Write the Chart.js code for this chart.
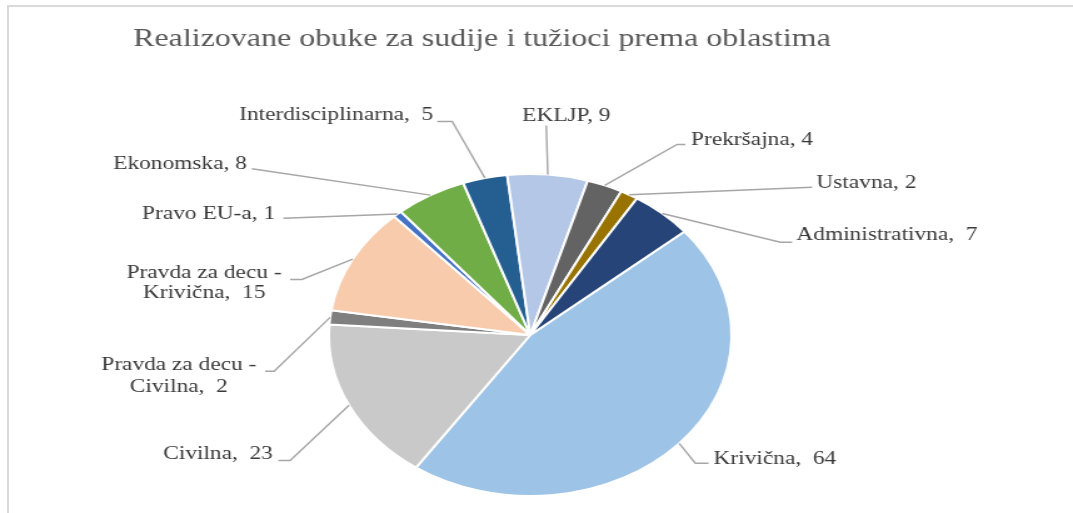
<!DOCTYPE html>
<html><head><meta charset="utf-8">
<script src="https://cdn.jsdelivr.net/npm/chart.js@4/dist/chart.umd.min.js"></script>
<style>
html,body{margin:0;padding:0;background:#fff;overflow:hidden;width:1073px;height:513px;}
#frame{position:absolute;left:7px;top:5px;width:1066px;height:508px;border-top:2px solid #D9D9D9;border-left:2px solid #D9D9D9;box-sizing:border-box;}
#wrap{position:absolute;left:0;top:0;width:858px;height:513px;transform:scaleX(1.25058);transform-origin:0 0;}
</style></head><body>
<div id="frame"></div>
<div id="wrap"><canvas id="c" width="858" height="513"></canvas></div>
<script>
const chartTitle = 'Realizovane obuke za sudije i tužioci prema oblastima';
const categories = ['Krivična', 'Civilna', ['Pravda za decu -', 'Civilna'], ['Pravda za decu -', 'Krivična'], 'Pravo EU-a', 'Ekonomska', 'Interdisciplinarna', 'EKLJP', 'Prekršajna', 'Ustavna', 'Administrativna'];
const values = [64, 23, 2, 15, 1, 8, 5, 9, 4, 2, 7];
const sliceColors = ['#9DC3E6', '#C9C9C9', '#7F7F7F', '#F8CBAD', '#4472C4', '#70AD47', '#255E91', '#B4C7E7', '#636363', '#997300', '#264478'];

// label placement relative to the pie centre (text anchor, leader end, optional elbow)
const labelLayout = [
  {sep: ',  ', align: 'left',   tx: 146.6, ty: [124.5],        ex: 142.6, ey: 128.2, kx: 132,    ky: 128.2},
  {sep: ',  ', align: 'right',  tx: -205.8, ty: [119.5],       ex: -201.4, ey: 125.5, kx: -192,  ky: 125.5},
  {sep: ',  ', align: 'center', tx: -281, ty: [30.5, 52.5],    ex: -212, ey: 36.2,   kx: -204.8, ky: 36.2},
  {sep: ',  ', align: 'center', tx: -260.8, ty: [-61.8, -41.5],ex: -192, ey: -55.5,  kx: -182.6, ky: -55.5},
  {sep: ', ',  align: 'right',  tx: -204, ty: [-121.2],        ex: -197.4, ey: -116.8},
  {sep: ', ',  align: 'right',  tx: -226.6, ty: [-171.2],      ex: -222.6, ey: -166.2},
  {sep: ',  ', align: 'right',  tx: -77.6, ty: [-219.5],       ex: -74.4, ey: -213.5, kx: -62.4, ky: -213.5},
  {sep: ', ',  align: 'center', tx: 28.8, ty: [-218.5],        ex: 12.8, ey: -209.5},
  {sep: ', ',  align: 'left',   tx: 128.6, ty: [-194.5],       ex: 124, ey: -190.5,  kx: 117.4,  ky: -190.5},
  {sep: ', ',  align: 'left',   tx: 228.8, ty: [-151.8],       ex: 225.4, ey: -147.8},
  {sep: ',  ', align: 'left',   tx: 212.8, ty: [-99.5],        ex: 209.4, ey: -92.8, kx: 200,    ky: -92.8}
];

const labelPlugin = {
  id: 'pieLabels',
  afterDraw(chart) {
    const ctx = chart.ctx;
    ctx.save();
    ctx.fillStyle = '#595959';
    ctx.font = '25.6px "Liberation Serif", "Times New Roman", serif';
    ctx.textAlign = 'left';
    ctx.textBaseline = 'alphabetic';
    ctx.fillText(chartTitle, 106.4, 45.7);

    const meta = chart.getDatasetMeta(0);
    meta.data.forEach((arc, i) => {
      const p = arc.getProps(['x', 'y', 'startAngle', 'endAngle', 'outerRadius'], true);
      const mid = (p.startAngle + p.endAngle) / 2;
      const sx = p.x + Math.cos(mid) * p.outerRadius;
      const sy = p.y + Math.sin(mid) * p.outerRadius;
      const L = labelLayout[i];
      ctx.strokeStyle = '#A6A6A6';
      ctx.lineWidth = 1.4;
      ctx.beginPath();
      ctx.moveTo(sx, sy);
      if (L.kx !== undefined) ctx.lineTo(p.x + L.kx, p.y + L.ky);
      ctx.lineTo(p.x + L.ex, p.y + L.ey);
      ctx.stroke();

      const cat = categories[i];
      const lines = Array.isArray(cat) ? cat.slice() : [cat];
      lines[lines.length - 1] = lines[lines.length - 1] + L.sep + values[i];
      ctx.fillStyle = '#3A3A3A';
      ctx.font = '18.7px "Liberation Serif", "Times New Roman", serif';
      ctx.textAlign = L.align;
      ctx.textBaseline = 'middle';
      lines.forEach((t, j) => ctx.fillText(t, p.x + L.tx, p.y + L.ty[j]));
    });
    ctx.restore();
  }
};

new Chart(document.getElementById('c'), {
  type: 'pie',
  data: {
    labels: categories,
    datasets: [{
      data: values,
      backgroundColor: sliceColors,
      borderColor: '#FFFFFF',
      borderWidth: 2
    }]
  },
  options: {
    responsive: false,
    animation: false,
    rotation: 50,
    radius: 161,
    layout: {padding: {left: 224, right: 234, top: 174, bottom: 17}},
    plugins: {
      legend: {display: false},
      tooltip: {enabled: false},
      title: {display: false}
    }
  },
  plugins: [labelPlugin]
});
</script>
</body></html>
